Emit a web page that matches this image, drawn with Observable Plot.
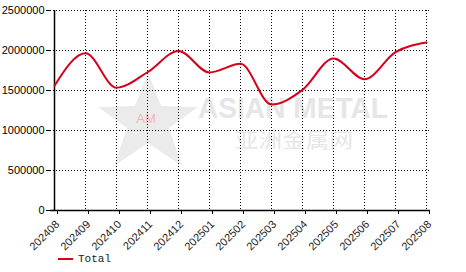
<!DOCTYPE html>
<html>
<head>
<meta charset="utf-8">
<script src="https://cdn.jsdelivr.net/npm/d3@7"></script>
<script src="https://cdn.jsdelivr.net/npm/@observablehq/plot@0.6"></script>
<style>
  html, body { margin: 0; padding: 0; background: #fff; }
  #wrap { position: relative; width: 466px; height: 272px; overflow: hidden; }
  #wm { position: absolute; left: 0; top: 0; z-index: 0; }
  #chart { position: absolute; left: 0; top: 0; z-index: 1; }
  #legend { position: absolute; left: 58px; top: 253px; z-index: 2; display: flex; align-items: center;
            font-family: "Liberation Mono", "DejaVu Sans Mono", monospace; font-size: 11px; color: #222; }
  #legend .sw { width: 15px; height: 2px; background: #d7001b; margin-right: 5px; }
</style>
</head>
<body>
<div id="wrap">
  <svg id="wm" width="466" height="250">
    <polygon points="148,72 161,106 198,107 169,128 182,166 148,143 114,166 127,128 98,107 135,106"
             fill="#ebebeb" />
    <text x="146" y="123" text-anchor="middle" font-family="Liberation Sans, Arial, sans-serif" font-size="13" fill="#f4b3b8">AM</text>
    <text x="198" y="118" textLength="190" lengthAdjust="spacingAndGlyphs" font-family="Liberation Sans, Arial, sans-serif" font-weight="bold" font-size="30" fill="#e6e6e6">ASIAN METAL</text>
    <text x="235" y="148" textLength="118" lengthAdjust="spacingAndGlyphs" font-family="Noto Sans CJK SC, sans-serif" font-size="20" fill="#e6e6e6">亚洲金属网</text>
  </svg>
  <div id="chart"></div>
  <div id="legend"><span class="sw"></span><span>Total</span></div>
</div>
<script>
const months = ["202408","202409","202410","202411","202412","202501","202502","202503","202504","202505","202506","202507","202508"];
const totals = [1560000,1965000,1535000,1728000,1993000,1725000,1833000,1325000,1508000,1900000,1642000,1980000,2100000];
const yTicks = [0,500000,1000000,1500000,2000000,2500000];

const data = months.map((m, i) => ({month: m, value: totals[i]}));

const plot = Plot.plot({
  width: 466,
  height: 272,
  marginLeft: 50,
  marginRight: 36,
  marginTop: 10,
  marginBottom: 62,
  style: {fontFamily: "Liberation Sans, Arial, sans-serif", fontSize: "11px", color: "#000", background: "transparent"},
  x: {type: "point", domain: months, padding: 0, label: null},
  y: {domain: [0, 2500000], ticks: yTicks, label: null, tickFormat: d => String(d)},
  marks: [
    Plot.gridY(yTicks, {stroke: "#000", strokeOpacity: 1, strokeDasharray: "1,2"}),
    Plot.gridX(months.slice(1), {stroke: "#000", strokeOpacity: 1, strokeDasharray: "1,2"}),
    Plot.axisY({ticks: yTicks, tickSize: 4, tickPadding: 2, tickFormat: d => String(d), label: null, fill: "#000"}),
    Plot.axisX({tickSize: 4, tickRotate: -45, tickPadding: 8, dx: 3, label: null, fill: "#222"}),
    Plot.ruleX([months[0]], {stroke: "#000", strokeWidth: 1.5}),
    Plot.ruleY([0], {stroke: "#000", strokeWidth: 1.5}),
    Plot.line(data, {x: "month", y: "value", stroke: "#d7001b", strokeWidth: 2, curve: "monotone-x"})
  ]
});
document.getElementById("chart").appendChild(plot);
</script>
</body>
</html>
